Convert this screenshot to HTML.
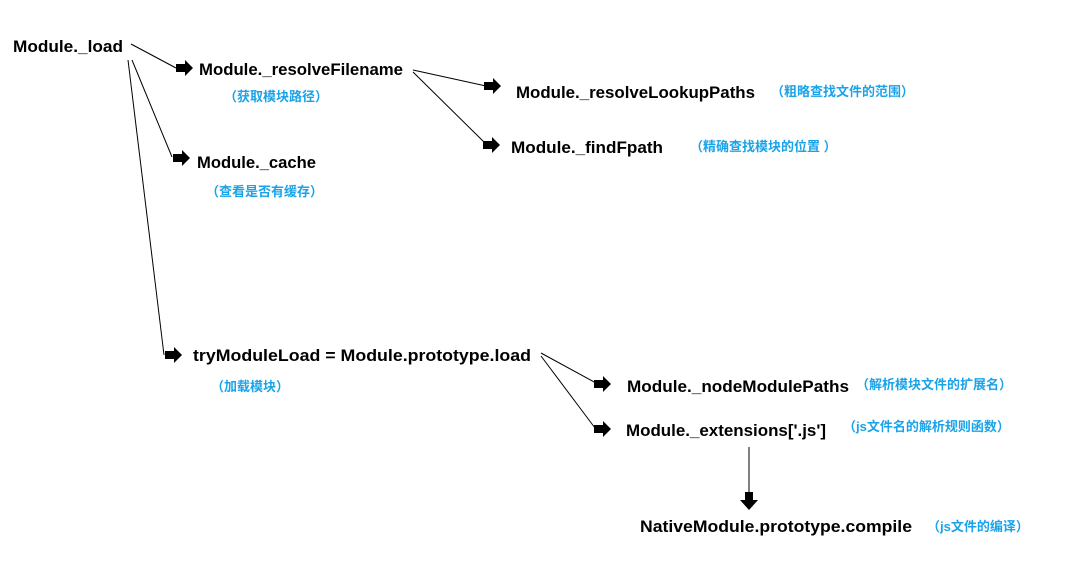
<!DOCTYPE html>
<html><head><meta charset="utf-8"><style>
html,body{margin:0;padding:0;background:#fff;width:1076px;height:575px;overflow:hidden}
.t{font-family:"Liberation Sans","Noto Sans CJK SC",sans-serif;font-weight:bold;font-size:17px;fill:#000}
.c{font-family:"Liberation Sans","Noto Sans CJK SC",sans-serif;font-weight:bold;font-size:13px;fill:#1aa3e8}
line{stroke:#000;stroke-width:1}
</style></head><body>
<svg width="1076" height="575" xmlns="http://www.w3.org/2000/svg">
<defs>
<polygon id="ar" points="0,-4 9,-4 9,-8 17,0 9,8 9,4 0,4" fill="#000"/>
</defs>
<text class="t" x="13" y="52" textLength="110" lengthAdjust="spacingAndGlyphs">Module._load</text>
<line x1="131" y1="44" x2="176" y2="68"/>
<line x1="132" y1="60" x2="172" y2="157"/>
<line x1="128" y1="60" x2="164" y2="355"/>
<use href="#ar" x="176" y="68"/>
<use href="#ar" x="173" y="158"/>
<use href="#ar" x="165" y="355"/>

<text class="t" x="199" y="75" textLength="204" lengthAdjust="spacingAndGlyphs">Module._resolveFilename</text>
<text class="c" x="224" y="101">（获取模块路径）</text>
<line x1="413" y1="70" x2="486" y2="86"/>
<line x1="413" y1="72" x2="486" y2="144"/>
<use href="#ar" x="484" y="86"/>
<use href="#ar" x="483" y="145"/>
<text class="t" x="516" y="98" textLength="239" lengthAdjust="spacingAndGlyphs">Module._resolveLookupPaths</text>
<text class="c" x="771" y="96">（粗略查找文件的范围）</text>
<text class="t" x="511" y="153" textLength="152" lengthAdjust="spacingAndGlyphs">Module._findFpath</text>
<text class="c" x="690" y="151">（精确查找模块的位置 ）</text>

<text class="t" x="197" y="168" textLength="119" lengthAdjust="spacingAndGlyphs">Module._cache</text>
<text class="c" x="206" y="196">（查看是否有缓存）</text>

<text class="t" x="193" y="361" textLength="338" lengthAdjust="spacingAndGlyphs">tryModuleLoad = Module.prototype.load</text>
<text class="c" x="211" y="391">（加载模块）</text>
<line x1="541" y1="353" x2="596" y2="383"/>
<line x1="541" y1="356" x2="595" y2="428"/>
<use href="#ar" x="594" y="384"/>
<use href="#ar" x="594" y="429"/>
<text class="t" x="627" y="392" textLength="222" lengthAdjust="spacingAndGlyphs">Module._nodeModulePaths</text>
<text class="c" x="856" y="389">（解析模块文件的扩展名）</text>
<text class="t" x="626" y="436" textLength="200" lengthAdjust="spacingAndGlyphs">Module._extensions['.js']</text>
<text class="c" x="843" y="431">（js文件名的解析规则函数）</text>

<line x1="749" y1="447" x2="749" y2="494"/>
<polygon points="745,492 753,492 753,500 758,500 749,510 740,500 745,500" fill="#000"/>
<text class="t" x="640" y="532" textLength="272" lengthAdjust="spacingAndGlyphs">NativeModule.prototype.compile</text>
<text class="c" x="927" y="531">（js文件的编译）</text>
</svg>
</body></html>
